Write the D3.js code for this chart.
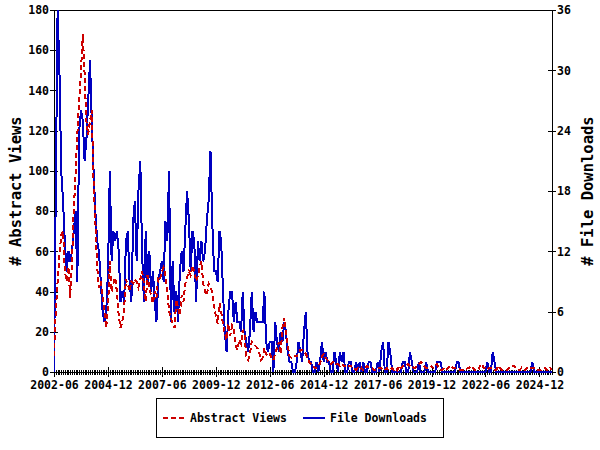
<!DOCTYPE html>
<html><head><meta charset="utf-8">
<script src="https://cdn.jsdelivr.net/npm/d3@7"></script>
<style>
body{margin:0;background:#fff}
svg text{font-family:"DejaVu Sans Mono",monospace;font-weight:bold;fill:#000}
</style>
</head><body>
<svg id="c" width="600" height="450"></svg>
<script>
const startMonth = "2002-06";
const views = [
8,30,45,58,68,70,50,45,52,37,
55,80,98,118,135,150,168,148,125,118,
125,130,95,75,52,42,45,38,30,22,
32,55,40,44,47,40,28,22,25,32,
46,44,40,45,44,46,45,42,46,50,
44,35,48,42,38,34,40,37,47,46,
50,52,48,40,30,27,24,22,36,32,
28,38,35,44,47,50,48,53,50,45,
48,52,55,44,40,38,44,42,40,33,
28,24,34,30,24,19,16,24,18,23,
21,13,11,16,14,21,18,8,6,9,
15,14,13,12,10,6,7,12,9,8,
9,7,6,9,12,15,9,22,27,20,
13,8,7,7,8,8,9,11,11,10,
9,7,5,4,3,2,2,3,4,8,
9,7,6,5,4,5,5,4,4,3,
4,3,3,2,3,3,2,2,1,2,
1,2,1,2,3,2,2,2,1,1,
1,2,2,1,1,2,1,1,2,1,
2,1,3,2,3,3,3,4,3,3,
2,2,3,4,5,4,3,2,2,2,
3,2,3,4,2,1,1,2,1,2,
3,3,2,2,2,2,1,1,1,1,
2,2,3,2,1,1,1,3,4,2,
2,1,2,2,2,1,1,3,2,1,
1,1,1,2,2,3,3,2,1,1,
2,1,1,2,1,2,2,2,2,1,
1,1,2,2,1,1,2,1
];
const downloads = [
0,18,36,30,20,17,13,10,12,11,
12,14,16,9,24,26,25,21,23,27,
31,25,20,16,13,12,9,6,5,6,
10,20,11,14,13,14,12,7,8,7,
13,14,9,7,15,17,11,18,21,12,
7,14,9,12,8,10,7,5,9,10,
11,9,15,13,20,5,11,6,8,5,
10,12,10,14,18,15,10,14,13,7,
13,11,13,11,12,15,17,22,15,10,
10,9,14,13,8,4,2,6,8,8,
5,7,5,5,4,8,4,3,2,4,
8,4,6,5,5,5,5,8,3,2,
3,3,0,5,3,2,4,3,5,4,
2,1,1,0,0,1,3,2,1,4,
6,2,1,1,0,0,1,0,1,3,
1,2,1,1,0,0,2,1,0,2,
1,2,0,0,1,1,0,0,1,0,
1,0,1,0,0,1,1,0,0,0,
1,0,2,3,0,0,3,2,0,0,
0,0,0,0,1,1,0,0,2,1,
0,0,0,1,0,0,0,1,0,0,
0,0,0,1,1,1,0,0,0,0,
0,0,0,0,1,1,0,0,0,0,
0,0,0,0,0,0,0,0,0,0,
0,1,0,0,2,1,0,0,0,0,
0,0,0,0,0,0,0,0,0,0,
0,0,0,0,0,0,1,0,0,0,
0,0,0,0,0,0,0,0
];
const xTickLabels = ["2002-06","2004-12","2007-06","2009-12","2012-06","2014-12","2017-06","2019-12","2022-06","2024-12"];
const leftTicks = [0,20,40,60,80,100,120,140,160,180];
const rightTicks = [0,6,12,18,24,30,36];
const seriesNames = ["Abstract Views","File Downloads"];
const colors = ["#cc0000","#0000c0"];

const L = 54, R = 552, T = 10, B = 372;
const parse = d3.timeParse("%Y-%m");
const start = parse(startMonth);
const dates = views.map((_, i) => d3.timeMonth.offset(start, i));
const svg = d3.select("#c");

const x = d3.scaleTime().domain([dates[0], dates[dates.length - 1]]).range([L, R]);
const yL = d3.scaleLinear().domain([0, 180]).range([B, T]);
const yR = d3.scaleLinear().domain([0, 36]).range([B, T]);

// frame
svg.append("rect").attr("x", L).attr("y", T).attr("width", R - L).attr("height", B - T)
  .attr("fill", "none").attr("stroke", "#000").attr("stroke-width", 1).attr("shape-rendering", "crispEdges");

// minor x ticks (monthly)
const minor = svg.append("g").attr("transform", `translate(0,${B})`)
  .call(d3.axisBottom(x).tickValues(dates).tickSize(3).tickFormat(""));
minor.select(".domain").remove();
minor.selectAll("line").attr("y1", -2).attr("stroke", "#000").attr("shape-rendering", "crispEdges");

// major x ticks
const xt = xTickLabels.map(parse);
const gx = svg.append("g").attr("transform", `translate(0,${B})`)
  .call(d3.axisBottom(x).tickValues(xt).tickSize(5).tickPadding(4).tickFormat(d3.timeFormat("%Y-%m")));
gx.select(".domain").remove();
gx.selectAll("line").attr("y1", -5).attr("stroke", "#000").attr("shape-rendering", "crispEdges");
gx.selectAll("text").style("font-size", "11.5px").attr("fill", "#000");

// left axis
const gl = svg.append("g").attr("transform", `translate(${L},0)`)
  .call(d3.axisLeft(yL).tickValues(leftTicks).tickSize(4).tickPadding(1));
gl.select(".domain").remove();
gl.selectAll("line").attr("x1", 4).attr("stroke", "#000").attr("shape-rendering", "crispEdges");
gl.selectAll("text").style("font-size", "11.5px").attr("fill", "#000");

// right axis
const gr = svg.append("g").attr("transform", `translate(${R},0)`)
  .call(d3.axisRight(yR).tickValues(rightTicks).tickSize(4).tickPadding(1));
gr.select(".domain").remove();
gr.selectAll("line").attr("x1", -4).attr("stroke", "#000").attr("shape-rendering", "crispEdges");
gr.selectAll("text").style("font-size", "11.5px").attr("fill", "#000");

// axis titles
svg.append("text").attr("transform", `translate(21,${(T + B) / 2}) rotate(-90)`)
  .attr("text-anchor", "middle").style("font-size", "15.5px").text("# Abstract Views");
svg.append("text").attr("transform", `translate(593,${(T + B) / 2}) rotate(-90)`)
  .attr("text-anchor", "middle").style("font-size", "15.5px").text("# File Downloads");

// lines
const clip = svg.append("clipPath").attr("id", "pc").append("rect")
  .attr("x", L).attr("y", T).attr("width", R - L).attr("height", B - T + 1);
const lineD = d3.line().x((d, i) => x(dates[i])).y(d => yR(d));
const lineV = d3.line().x((d, i) => x(dates[i])).y(d => yL(d));
svg.append("path").datum(downloads).attr("d", lineD).attr("fill", "none")
  .attr("stroke", colors[1]).attr("stroke-width", 2).attr("shape-rendering", "crispEdges")
  .attr("clip-path", "url(#pc)");
svg.append("path").datum(views).attr("d", lineV).attr("fill", "none")
  .attr("stroke", colors[0]).attr("stroke-width", 2).attr("stroke-dasharray", "5,3")
  .attr("shape-rendering", "crispEdges").attr("clip-path", "url(#pc)");

// legend
const lg = svg.append("g");
lg.append("rect").attr("x", 156.5).attr("y", 398.5).attr("width", 287).attr("height", 39)
  .attr("fill", "#fff").attr("stroke", "#000").attr("stroke-width", 1);
lg.append("line").attr("x1", 163).attr("x2", 184).attr("y1", 418).attr("y2", 418)
  .attr("stroke", colors[0]).attr("stroke-width", 2).attr("stroke-dasharray", "5,3")
  .attr("shape-rendering", "crispEdges");
lg.append("text").attr("x", 190).attr("y", 422).style("font-size", "11.5px").text(seriesNames[0]);
lg.append("line").attr("x1", 303).attr("x2", 325).attr("y1", 418).attr("y2", 418)
  .attr("stroke", colors[1]).attr("stroke-width", 2).attr("shape-rendering", "crispEdges");
lg.append("text").attr("x", 330).attr("y", 422).style("font-size", "11.5px").text(seriesNames[1]);
</script>
</body></html>
